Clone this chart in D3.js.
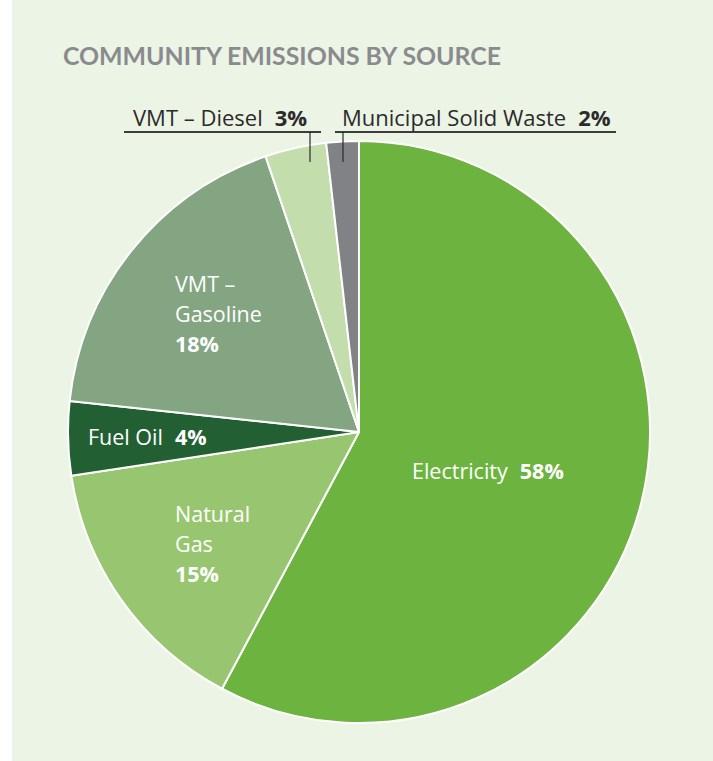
<!DOCTYPE html>
<html>
<head>
<meta charset="utf-8">
<script src="https://cdn.jsdelivr.net/npm/d3@7"></script>
<style>
  html, body { margin: 0; padding: 0; background: #ffffff; }
  svg { display: block; }
  text { font-family: "Open Sans", Lato, sans-serif; }
</style>
</head>
<body>
<svg id="chart"></svg>
<script>
const categories = ['Electricity', 'Natural Gas', 'Fuel Oil', 'VMT – Gasoline', 'VMT – Diesel', 'Municipal Solid Waste'];
const shares = [57.8, 14.8, 4.1, 18.1, 3.4, 1.8];
const pctLabels = ['58%', '15%', '4%', '18%', '3%', '2%'];
const colors = ['#6db33f', '#98c670', '#225f33', '#84a582', '#c4ddad', '#808285'];

const width = 713, height = 761;
const cx = 359, cy = 432, radius = 291;

const svg = d3.select('#chart')
    .attr('width', width)
    .attr('height', height);

// light green panel
svg.append('rect')
    .attr('x', 12).attr('y', 0)
    .attr('width', width - 12).attr('height', height)
    .attr('fill', '#ecf4e5');

svg.append('text')
    .attr('x', 63)
    .attr('y', 65)
    .attr('textLength', 438)
    .attr('lengthAdjust', 'spacingAndGlyphs')
    .style('font-family', 'Lato, sans-serif')
    .style('font-size', '24px')
    .style('font-weight', 'bold')
    .style('fill', '#898b8e')
    .text('COMMUNITY EMISSIONS BY SOURCE');

const data = categories.map((c, i) => ({ name: c, value: shares[i], pct: pctLabels[i], color: colors[i] }));

const pie = d3.pie()
    .sort(null)
    .value(d => d.value);

const arc = d3.arc()
    .innerRadius(0)
    .outerRadius(radius);

const g = svg.append('g')
    .attr('transform', `translate(${cx},${cy})`);

g.selectAll('path.slice')
    .data(pie(data))
    .join('path')
    .attr('class', 'slice')
    .attr('d', arc)
    .attr('fill', d => d.data.color)
    .attr('stroke', '#ffffff')
    .attr('stroke-width', 2)
    .attr('stroke-linejoin', 'round');

// labels inside the slices
const inside = [
  { i: 0, x: 412, y: 479, lines: ['Electricity'], inline: true },
  { i: 1, x: 175, y: 522, lines: ['Natural', 'Gas'], inline: false },
  { i: 2, x: 88, y: 445, lines: ['Fuel Oil'], inline: true },
  { i: 3, x: 175, y: 292, lines: ['VMT –', 'Gasoline'], inline: false }
];

inside.forEach(l => {
  const t = svg.append('text')
      .attr('x', l.x)
      .attr('y', l.y)
      .style('font-size', '21.5px')
      .style('fill', '#ffffff');
  if (l.inline) {
    t.append('tspan').text(l.lines[0]);
    t.append('tspan').attr('dx', 12).style('font-weight', 'bold').text(data[l.i].pct);
  } else {
    l.lines.forEach((s, k) => {
      t.append('tspan').attr('x', l.x).attr('dy', k === 0 ? 0 : 30).text(s);
    });
    t.append('tspan').attr('x', l.x).attr('dy', 30).style('font-weight', 'bold').text(data[l.i].pct);
  }
});

// callouts for the two thin slices at the top
const callouts = [
  { i: 4, textX: 133, lineX1: 124, lineX2: 321, tickX: 310 },
  { i: 5, textX: 342, lineX1: 335, lineX2: 616, tickX: 343 }
];
const underlineY = 132, tickBottom = 162;

callouts.forEach(c => {
  svg.append('line')
      .attr('x1', c.lineX1).attr('x2', c.lineX2)
      .attr('y1', underlineY).attr('y2', underlineY)
      .attr('stroke', '#3b3b3b')
      .attr('stroke-width', 1.8);
  svg.append('line')
      .attr('x1', c.tickX).attr('x2', c.tickX)
      .attr('y1', underlineY).attr('y2', tickBottom)
      .attr('stroke', '#2b2b2b')
      .attr('stroke-width', 1.2);
  const t = svg.append('text')
      .attr('x', c.textX)
      .attr('y', 126)
      .style('font-size', '22px')
      .style('fill', '#2b2b2b');
  t.append('tspan').text(data[c.i].name);
  t.append('tspan').attr('dx', 12).style('font-weight', 'bold').text(data[c.i].pct);
});
</script>
</body>
</html>
